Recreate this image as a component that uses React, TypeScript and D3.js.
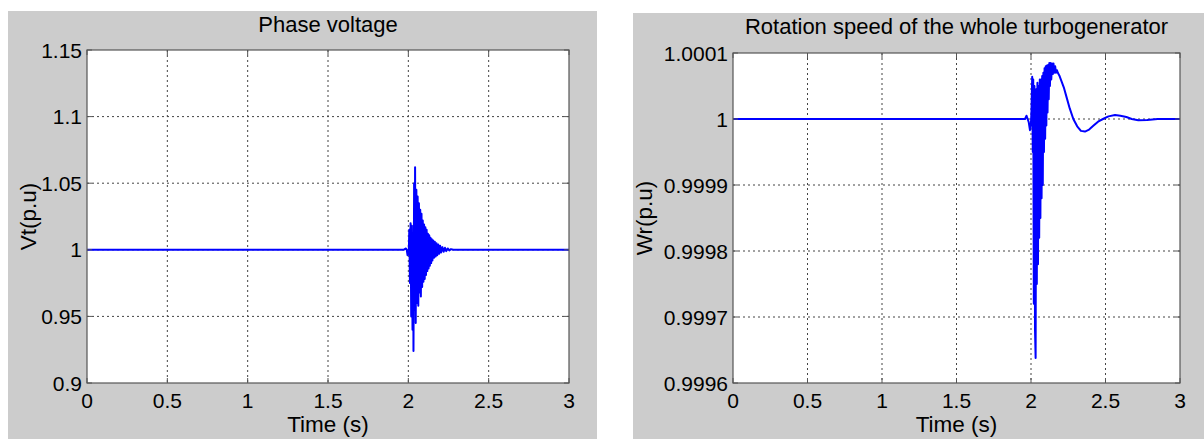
import React from "react";
import * as d3 from "d3";

// ---------- data ----------
const voltageXTicks = [0, 0.5, 1, 1.5, 2, 2.5, 3];
const voltageYTicks = [0.9, 0.95, 1, 1.05, 1.1, 1.15];
const voltageYLabels = ["0.9", "0.95", "1", "1.05", "1.1", "1.15"];
const voltageTime = [
  0, 1.97, 1.985, 1.99, 1.995, 2.0, 2.003, 2.006, 2.01, 2.014, 2.018, 2.022, 2.026, 2.03, 2.032,
  2.036, 2.04, 2.042, 2.046, 2.05, 2.054, 2.058, 2.062, 2.066, 2.07, 2.074, 2.078, 2.082, 2.086,
  2.09, 2.094, 2.098, 2.102, 2.106, 2.11, 2.114, 2.118, 2.122, 2.126, 2.13, 2.134, 2.138, 2.142,
  2.146, 2.15, 2.155, 2.16, 2.165, 2.17, 2.175, 2.18, 2.186, 2.192, 2.198, 2.204, 2.212, 2.22,
  2.228, 2.236, 2.245, 2.255, 2.265, 2.28, 3,
];
const voltageValue = [
  1, 1, 1.001, 1.0, 0.996, 0.999, 1.0, 1.015, 0.975, 1.02, 0.95, 1.018, 0.94, 1.01, 0.924,
  1.05, 0.955, 1.062, 0.945, 1.045, 0.96, 1.04, 0.958, 1.035, 0.968, 1.03, 0.965, 1.027, 0.972,
  1.022, 0.976, 1.019, 0.978, 1.017, 0.981, 1.015, 0.984, 1.012, 0.986, 1.011, 0.988, 1.009, 0.99,
  1.008, 0.992, 1.007, 0.994, 1.006, 0.995, 1.005, 0.996, 1.004, 0.997, 1.003, 0.998, 1.002, 0.9985,
  1.0015, 0.999, 1.001, 0.9995, 1.0005, 1.0, 1,
];

const speedXTicks = [0, 0.5, 1, 1.5, 2, 2.5, 3];
const speedYTicks = [0.9996, 0.9997, 0.9998, 0.9999, 1, 1.0001];
const speedYLabels = ["0.9996", "0.9997", "0.9998", "0.9999", "1", "1.0001"];
const speedTime = [
  0, 1.96, 1.97, 1.985, 1.993, 2.0, 2.003, 2.008, 2.012, 2.015, 2.019, 2.023, 2.027, 2.031,
  2.035, 2.039, 2.043, 2.047, 2.051, 2.055, 2.059, 2.063, 2.067, 2.071, 2.075, 2.079, 2.083,
  2.087, 2.091, 2.095, 2.099, 2.103, 2.107, 2.111, 2.115, 2.119, 2.123, 2.127, 2.131, 2.136,
  2.141, 2.146, 2.151, 2.156, 2.162, 2.168, 2.174, 2.18, 2.19, 2.2, 2.22, 2.24, 2.26, 2.284,
  2.31, 2.335, 2.362, 2.39, 2.42, 2.45, 2.483, 2.52, 2.564, 2.6, 2.64, 2.676, 2.72, 2.78, 2.85, 3,
];
const speedValue = [
  1, 1, 1.000005, 0.999995, 0.999983, 0.999995, 1.00001, 1.000064, 0.99995, 1.00006, 0.99972,
  1.00005, 0.99968, 0.999638, 1.000045, 0.99975, 1.000055, 0.99978, 1.00005, 0.99982, 1.00006,
  0.99985, 1.00006, 0.99988, 1.000065, 0.9999, 1.00007, 0.99995, 1.000077, 0.99997, 1.00008,
  0.99999, 1.000081, 1.00001, 1.000082, 1.00003, 1.000085, 1.00005, 1.000085, 1.00006, 1.000084,
  1.000068, 1.000084, 1.00007, 1.00008, 1.00007, 1.000074, 1.00007, 1.000066, 1.00006, 1.000048,
  1.000032, 1.000016, 1.0, 0.999989, 0.999982, 0.999981, 0.999984, 0.99999, 0.999996, 1.0,
  1.000004, 1.000006, 1.000005, 1.000003, 1.0, 0.999998, 0.9999985, 1.0, 1,
];

const FONT = "'Liberation Sans', Arial, sans-serif";
const TICK_FS = 21;
const TITLE_FS = 22;
const LABEL_FS = 22.5;

type PanelProps = {
  bg: [number, number, number, number];
  plot: [number, number, number, number]; // left, top, right, bottom
  title: string;
  titleY: number;
  yLabel: string;
  yLabelX: number;
  xTicks: number[];
  yTicks: number[];
  yLabels: string[];
  yDomain: [number, number];
  times: number[];
  values: number[];
};

function Panel(p: PanelProps) {
  const [l, t, r, b] = p.plot;
  const x = d3.scaleLinear().domain([0, 3]).range([l, r]);
  const y = d3.scaleLinear().domain(p.yDomain).range([b, t]);
  const pts: [number, number][] = p.times.map((tt, i) => [tt, p.values[i]]);
  const line = d3
    .line<[number, number]>()
    .x((d) => x(d[0]))
    .y((d) => y(d[1]));
  const cx = (l + r) / 2;
  const cy = (t + b) / 2;
  return (
    <g>
      <rect x={p.bg[0]} y={p.bg[1]} width={p.bg[2]} height={p.bg[3]} fill="#cccccc" />
      <rect x={l} y={t} width={r - l} height={b - t} fill="#ffffff" />
      {p.xTicks.slice(1, -1).map((v) => (
        <line key={"gx" + v} x1={x(v)} x2={x(v)} y1={t} y2={b} stroke="#444" strokeDasharray="2,3" strokeWidth={1} />
      ))}
      {p.yTicks.slice(1, -1).map((v) => (
        <line key={"gy" + v} x1={l} x2={r} y1={y(v)} y2={y(v)} stroke="#444" strokeDasharray="2,3" strokeWidth={1} />
      ))}
      <path d={line(pts) || ""} fill="none" stroke="#0000ff" strokeWidth={2} strokeLinejoin="round" />
      <rect x={l} y={t} width={r - l} height={b - t} fill="none" stroke="#555" strokeWidth={1.2} />
      {p.xTicks.map((v) => (
        <g key={"tx" + v}>
          <line x1={x(v)} x2={x(v)} y1={b} y2={b - 5} stroke="#555" />
          <line x1={x(v)} x2={x(v)} y1={t} y2={t + 5} stroke="#555" />
          <text x={x(v)} y={b + 25} textAnchor="middle" fontFamily={FONT} fontSize={TICK_FS} fill="#000">
            {String(v)}
          </text>
        </g>
      ))}
      {p.yTicks.map((v, i) => (
        <g key={"ty" + v}>
          <line x1={l} x2={l + 5} y1={y(v)} y2={y(v)} stroke="#555" />
          <line x1={r} x2={r - 5} y1={y(v)} y2={y(v)} stroke="#555" />
          <text x={l - 5} y={y(v)} dy="0.36em" textAnchor="end" fontFamily={FONT} fontSize={TICK_FS} fill="#000">
            {p.yLabels[i]}
          </text>
        </g>
      ))}
      <text x={cx} y={p.titleY} textAnchor="middle" fontFamily={FONT} fontSize={TITLE_FS} fill="#000">
        {p.title}
      </text>
      <text x={cx} y={b + 49} textAnchor="middle" fontFamily={FONT} fontSize={LABEL_FS} fill="#000">
        Time (s)
      </text>
      <text
        transform={`translate(${p.yLabelX},${cy}) rotate(-90)`}
        textAnchor="middle"
        fontFamily={FONT}
        fontSize={LABEL_FS}
        fill="#000"
      >
        {p.yLabel}
      </text>
    </g>
  );
}

export default function App() {
  return (
    <svg
      width={1204}
      height={439}
      style={{ position: "absolute", left: 0, top: 0, background: "#ffffff" }}
    >
      <Panel
        bg={[8, 11, 589, 428]}
        plot={[87, 50, 569, 383]}
        title="Phase voltage"
        titleY={32}
        yLabel="Vt(p.u)"
        yLabelX={36}
        xTicks={voltageXTicks}
        yTicks={voltageYTicks}
        yLabels={voltageYLabels}
        yDomain={[0.9, 1.15]}
        times={voltageTime}
        values={voltageValue}
      />
      <Panel
        bg={[633, 13, 571, 426]}
        plot={[733, 53, 1180, 383]}
        title="Rotation speed of the whole turbogenerator"
        titleY={34}
        yLabel="Wr(p.u)"
        yLabelX={652}
        xTicks={speedXTicks}
        yTicks={speedYTicks}
        yLabels={speedYLabels}
        yDomain={[0.9996, 1.0001]}
        times={speedTime}
        values={speedValue}
      />
    </svg>
  );
}
